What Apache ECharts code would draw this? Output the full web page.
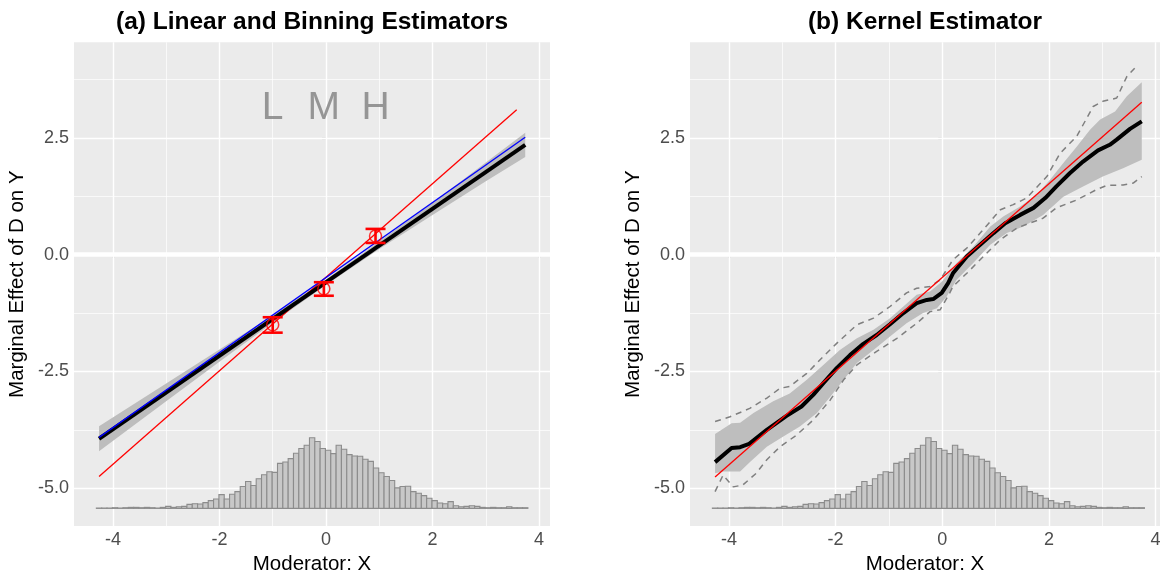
<!DOCTYPE html>
<html><head><meta charset="utf-8">
<script src="https://cdn.jsdelivr.net/npm/echarts@6/dist/echarts.min.js"></script>
<style>html,body{margin:0;padding:0;background:#fff}#c{width:1162px;height:573px}</style>
</head><body><div id="c"></div>
<script>
// ---------- tick labels / grid ----------
const xTicks = [-4, -2, 0, 2, 4];
const xMinor = [-3, -1, 1, 3];
const yTicks = [-5, -2.5, 0, 2.5];
const yMinor = [-3.75, -1.25, 1.25, 3.75];

// ---------- histogram of moderator X (shared by both panels) ----------
const histStart = -4.31;
const histBinWidth = 0.1;
const histCounts = [1,1,1,2,1,2,3,3,2,3,2,1,3,6,3,5,6,12,14,13,17,23,28,41,28,42,50,65,80,68,
  88,100,109,107,134,138,148,164,178,188,210,199,178,173,163,188,176,160,156,155,146,140,120,106,95,83,
  61,65,66,50,45,38,30,23,16,14,20,8,5,6,8,6,3,2,3,2,2,5,2,2,2];
const histBase = -5.43;     // y value of histogram baseline
const histTop = -3.92;      // y value reached by the tallest bin

// ---------- panel (a): linear and binning estimators ----------
const linX = [-4.26, 3.74];
const linEst = [-3.94, 2.35];          // black: linear estimate
const lowessX = [-4.26, 3.74];
const lowessY = [-3.91, 2.51];         // blue line
const trueX_a = [-4.26, 3.58];
const trueY_a = [-4.75, 3.10];         // red: true effect
const bandAx = [-4.26, -3, -2, -1, 0, 1, 2, 3, 3.74];
const bandAUpper = [-3.67, -2.76, -2.03, -1.30, -0.53, 0.28, 1.11, 1.97, 2.61];
const bandALower = [-4.21, -3.14, -2.29, -1.46, -0.65, 0.12, 0.85, 1.57, 2.09];
const binNames = ['L', 'M', 'H'];
const binX = [-1.0, -0.04, 0.93];
const binEst = [-1.50, -0.73, 0.40];
const binLo = [-1.67, -0.88, 0.25];
const binHi = [-1.34, -0.59, 0.55];
const binLabelY = 3.13;

// ---------- panel (b): kernel estimator ----------
const kerX = [-4.26,-3.95,-3.79,-3.62,-3.29,-2.92,-2.64,-2.42,-2.23,-1.98,-1.73,-1.48,-1.23,-0.98,-0.73,-0.48,-0.29,-0.17,-0.01,0.11,0.20,0.46,0.71,0.96,1.18,1.46,1.71,1.93,2.14,2.39,2.64,2.92,3.14,3.27,3.52,3.74];
const kerY = [-4.44,-4.14,-4.12,-4.05,-3.75,-3.45,-3.25,-3.00,-2.75,-2.43,-2.15,-1.91,-1.72,-1.49,-1.25,-1.04,-0.97,-0.95,-0.82,-0.61,-0.40,-0.04,0.21,0.46,0.67,0.85,1.00,1.21,1.46,1.74,1.99,2.23,2.35,2.46,2.69,2.85];
const ciUpX = [-4.26,-3.95,-3.79,-3.54,-3.17,-2.86,-2.54,-2.23,-1.92,-1.60,-1.29,-0.98,-0.73,-0.48,-0.23,-0.01,0.27,0.58,0.90,1.15,1.46,1.77,2.02,2.27,2.52,2.77,2.96,3.24,3.46,3.74];
const ciUpY = [-3.84,-3.61,-3.60,-3.39,-3.14,-2.97,-2.68,-2.36,-2.04,-1.79,-1.61,-1.36,-1.11,-0.86,-0.79,-0.58,-0.18,0.17,0.60,0.82,1.03,1.28,1.60,1.96,2.31,2.67,2.89,3.06,3.39,3.69];
const ciLoX = [-4.26,-4.11,-3.79,-3.60,-3.29,-2.98,-2.67,-2.35,-2.10,-1.85,-1.60,-1.29,-0.98,-0.67,-0.36,-0.10,0.08,0.27,0.58,0.90,1.21,1.52,1.89,2.27,2.64,3.01,3.39,3.74];
const ciLoY = [-4.68,-4.64,-4.64,-4.43,-4.11,-3.89,-3.68,-3.39,-3.04,-2.68,-2.32,-2.04,-1.75,-1.47,-1.25,-1.15,-0.90,-0.54,-0.18,0.21,0.46,0.60,0.85,1.24,1.46,1.67,1.85,2.03];
const ucUpX = [-4.26,-3.98,-3.61,-3.29,-3.04,-2.86,-2.54,-2.23,-1.98,-1.60,-1.29,-0.98,-0.67,-0.48,-0.23,-0.04,0.20,0.46,0.71,1.09,1.33,1.58,1.96,2.21,2.52,2.83,3.01,3.27,3.46,3.64];
const ucUpY = [-3.57,-3.47,-3.29,-3.07,-2.86,-2.82,-2.54,-2.18,-1.90,-1.50,-1.36,-1.11,-0.82,-0.72,-0.68,-0.54,-0.11,0.14,0.46,0.96,1.07,1.21,1.67,2.17,2.53,3.17,3.28,3.35,3.81,4.03];
const ucLoX = [-4.26,-4.11,-3.92,-3.74,-3.49,-3.29,-3.04,-2.73,-2.42,-2.10,-1.85,-1.60,-1.23,-0.85,-0.48,-0.23,-0.04,0.14,0.20,0.46,0.77,1.09,1.40,1.89,2.14,2.52,2.89,3.08,3.39,3.58,3.74];
const ucLoY = [-5.07,-4.72,-4.97,-4.93,-4.68,-4.39,-4.11,-3.86,-3.54,-3.11,-2.68,-2.36,-2.07,-1.79,-1.47,-1.22,-1.18,-0.82,-0.68,-0.40,-0.04,0.32,0.57,0.78,1.00,1.17,1.39,1.48,1.49,1.53,1.67];
const trueX_b = [-4.26, 3.74];
const trueY_b = [-4.76, 3.26];

// ---------- helpers ----------
const zip = (a, b) => a.map((v, i) => [v, b[i]]);
const FONT = 'Liberation Sans, Arial, Helvetica, sans-serif';
const histMax = Math.max(...histCounts);
const histData = histCounts.map((c, k) => [histStart + k * histBinWidth, histStart + (k + 1) * histBinWidth, c]);

function histSeries(idx) {
  return {
    type: 'custom', xAxisIndex: idx, yAxisIndex: idx, z: 2, silent: true,
    data: histData,
    renderItem: function (params, api) {
      const h = histBase + api.value(2) / histMax * (histTop - histBase);
      const p0 = api.coord([api.value(0), histBase]);
      const p1 = api.coord([api.value(1), h]);
      return { type: 'rect', shape: { x: p0[0], y: p1[1], width: p1[0] - p0[0], height: p0[1] - p1[1] },
        style: { fill: '#C8C8C8', stroke: '#8C8C8C', lineWidth: 1.1 } };
    }
  };
}
function bandSeries(idx, ux, uy, lx, ly, color) {
  return {
    type: 'custom', xAxisIndex: idx, yAxisIndex: idx, z: 3, silent: true,
    data: [[0, 0]],
    renderItem: function (params, api) {
      const pts = [];
      for (let i = 0; i < ux.length; i++) pts.push(api.coord([ux[i], uy[i]]));
      for (let i = lx.length - 1; i >= 0; i--) pts.push(api.coord([lx[i], ly[i]]));
      return { type: 'polygon', shape: { points: pts }, style: { fill: color } };
    }
  };
}
function lineSeries(idx, data, color, width, z, dashed) {
  return { type: 'line', xAxisIndex: idx, yAxisIndex: idx, data: data, symbol: 'none', z: z, silent: true,
    lineStyle: { color: color, width: width, type: dashed ? [6, 5] : 'solid', cap: 'butt' } };
}
function gridSeries(idx) {
  const ml = [];
  xMinor.forEach(v => ml.push({ xAxis: v, lineStyle: { color: '#FFFFFF', width: 0.7, type: 'solid' } }));
  yMinor.forEach(v => ml.push({ yAxis: v, lineStyle: { color: '#FFFFFF', width: 0.7, type: 'solid' } }));
  xTicks.forEach(v => ml.push({ xAxis: v, lineStyle: { color: '#FFFFFF', width: 1.4, type: 'solid' } }));
  yTicks.forEach(v => ml.push({ yAxis: v, lineStyle: { color: '#FFFFFF', width: 1.4, type: 'solid' } }));
  ml.push({ yAxis: 0, lineStyle: { color: '#FFFFFF', width: 4.5, type: 'solid' } });
  return { type: 'line', xAxisIndex: idx, yAxisIndex: idx, data: [], z: 1, silent: true,
    markLine: { z: 1, silent: true, symbol: 'none', label: { show: false }, animation: false, data: ml } };
}
function xAxis(idx, max) {
  return { type: 'value', gridIndex: idx, min: -4.73, max: max, name: 'Moderator: X', nameLocation: 'middle', nameGap: 27,
    nameTextStyle: { color: '#000', fontSize: 20.5, fontFamily: FONT },
    axisLine: { show: false }, splitLine: { show: false },
    axisTick: { show: true, length: 4, customValues: xTicks, lineStyle: { color: '#333333', width: 1.1 } },
    axisLabel: { customValues: xTicks, color: '#4D4D4D', fontSize: 18, fontFamily: FONT, margin: 5, formatter: v => String(v) } };
}
function yAxis(idx) {
  return { type: 'value', gridIndex: idx, min: -5.807, max: 4.543, name: 'Marginal Effect of D on Y', nameLocation: 'middle', nameGap: 46,
    nameTextStyle: { color: '#000', fontSize: 20.5, fontFamily: FONT },
    axisLine: { show: false }, splitLine: { show: false },
    axisTick: { show: true, length: 4, customValues: yTicks, lineStyle: { color: '#333333', width: 1.1 } },
    axisLabel: { customValues: yTicks, color: '#4D4D4D', fontSize: 18, fontFamily: FONT, margin: 5, formatter: v => v.toFixed(1) } };
}

const option = {
  animation: false,
  backgroundColor: '#FFFFFF',
  graphic: [
    { type: 'text', x: 312, y: 22, style: { text: '(a) Linear and Binning Estimators', font: 'bold 24.5px ' + FONT, fill: '#000', textAlign: 'center', textVerticalAlign: 'middle' } },
    { type: 'text', x: 925, y: 22, style: { text: '(b) Kernel Estimator', font: 'bold 24.5px ' + FONT, fill: '#000', textAlign: 'center', textVerticalAlign: 'middle' } }
  ],
  grid: [
    { left: 74, top: 42.3, width: 476, height: 483.7, show: true, backgroundColor: '#EBEBEB', borderWidth: 0, containLabel: false, outerBoundsMode: 'none' },
    { left: 690, top: 42.3, width: 470, height: 483.7, show: true, backgroundColor: '#EBEBEB', borderWidth: 0, containLabel: false, outerBoundsMode: 'none' }
  ],
  xAxis: [xAxis(0, 4.205), xAxis(1, 4.082)],
  yAxis: [yAxis(0), yAxis(1)],
  series: [
    gridSeries(0), gridSeries(1),
    histSeries(0), histSeries(1),
    // panel a
    bandSeries(0, bandAx, bandAUpper, bandAx, bandALower, '#BDBDBD'),
    lineSeries(0, zip(trueX_a, trueY_a), '#FF0000', 1.3, 4),
    lineSeries(0, zip(linX, linEst), '#000000', 4, 5),
    lineSeries(0, zip(lowessX, lowessY), '#0000FF', 1.3, 6),
    {
      type: 'custom', xAxisIndex: 0, yAxisIndex: 0, z: 7, silent: true,
      data: binX.map((x, i) => [x, binLo[i], binHi[i]]),
      renderItem: function (params, api) {
        const lo = api.coord([api.value(0), api.value(1)]);
        const hi = api.coord([api.value(0), api.value(2)]);
        const st = { stroke: '#FF0000', lineWidth: 2.6 };
        return { type: 'group', children: [
          { type: 'line', shape: { x1: lo[0], y1: lo[1], x2: hi[0], y2: hi[1] }, style: st },
          { type: 'line', shape: { x1: lo[0] - 10, y1: lo[1], x2: lo[0] + 10, y2: lo[1] }, style: st },
          { type: 'line', shape: { x1: hi[0] - 10, y1: hi[1], x2: hi[0] + 10, y2: hi[1] }, style: st }
        ] };
      }
    },
    { type: 'scatter', xAxisIndex: 0, yAxisIndex: 0, z: 8, silent: true, symbol: 'circle', symbolSize: 12,
      itemStyle: { color: 'rgba(0,0,0,0)', borderColor: '#FF0000', borderWidth: 1.5 },
      data: zip(binX, binEst) },
    { type: 'scatter', xAxisIndex: 0, yAxisIndex: 0, z: 8, silent: true, symbolSize: 0,
      data: binNames.map((n, i) => ({ value: [binX[i], binLabelY], name: n })),
      label: { show: true, position: 'inside', formatter: p => p.name, color: '#7F7F7F', fontSize: 39, fontFamily: FONT } },
    // panel b
    bandSeries(1, ciUpX, ciUpY, ciLoX, ciLoY, '#BEBEBE'),
    lineSeries(1, zip(ucUpX, ucUpY), '#7F7F7F', 1.5, 4, true),
    lineSeries(1, zip(ucLoX, ucLoY), '#7F7F7F', 1.5, 4, true),
    lineSeries(1, zip(kerX, kerY), '#000000', 4, 5),
    lineSeries(1, zip(trueX_b, trueY_b), '#FF0000', 1.3, 6)
  ]
};
echarts.init(document.getElementById('c'), null, { renderer: 'canvas' }).setOption(option);
</script>
</body></html>
